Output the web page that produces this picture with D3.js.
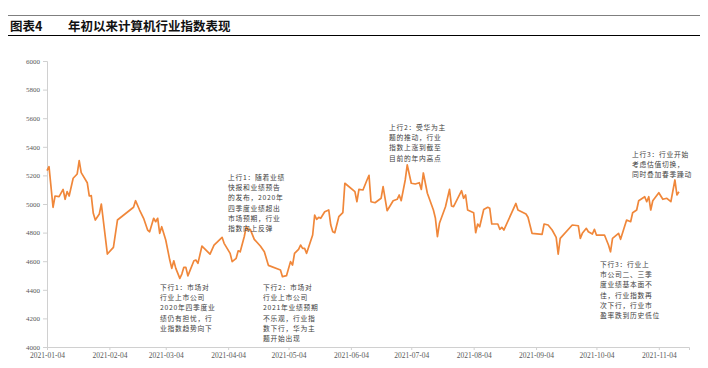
<!DOCTYPE html>
<html><head><meta charset="utf-8">
<script src="https://cdn.jsdelivr.net/npm/d3@7/dist/d3.min.js"></script>
<style>
html,body{margin:0;padding:0;background:#fff;}
svg{display:block;}
</style></head>
<body>
<svg id="chart" width="708" height="368"></svg>
<script>
// ---------- data ----------
const title = "图表4";
const subtitle = "年初以来计算机行业指数表现";
const dates = [
"2021-01-04","2021-01-05","2021-01-07","2021-01-08","2021-01-10","2021-01-12","2021-01-13","2021-01-14","2021-01-15","2021-01-17",
"2021-01-19","2021-01-20","2021-01-21","2021-01-24","2021-01-25","2021-01-26","2021-01-27","2021-01-28","2021-01-30","2021-01-31",
"2021-02-03","2021-02-06","2021-02-08","2021-02-16","2021-02-17","2021-02-19","2021-02-21","2021-02-23","2021-02-24","2021-02-26",
"2021-02-27","2021-02-28","2021-03-01","2021-03-02","2021-03-04","2021-03-06","2021-03-07","2021-03-08","2021-03-09","2021-03-11",
"2021-03-12","2021-03-13","2021-03-14","2021-03-15","2021-03-18","2021-03-19","2021-03-20","2021-03-22","2021-03-26","2021-03-28",
"2021-04-01","2021-04-02","2021-04-05","2021-04-06","2021-04-08","2021-04-09","2021-04-10","2021-04-12","2021-04-13","2021-04-14",
"2021-04-15","2021-04-17","2021-04-20","2021-04-22","2021-04-24","2021-04-30","2021-05-01","2021-05-03","2021-05-05","2021-05-06",
"2021-05-07","2021-05-09","2021-05-10","2021-05-11","2021-05-12","2021-05-13","2021-05-16","2021-05-17","2021-05-18","2021-05-19",
"2021-05-20","2021-05-22","2021-05-24","2021-05-25","2021-05-26","2021-05-27","2021-05-29","2021-05-31","2021-06-01","2021-06-06",
"2021-06-07","2021-06-08","2021-06-10","2021-06-12","2021-06-13","2021-06-14","2021-06-16","2021-06-19","2021-06-20","2021-06-22",
"2021-06-25","2021-06-27","2021-06-28","2021-06-29","2021-07-01","2021-07-02","2021-07-04","2021-07-06","2021-07-08","2021-07-09",
"2021-07-10","2021-07-12","2021-07-15","2021-07-16","2021-07-17","2021-07-18","2021-07-21","2021-07-23","2021-07-24","2021-07-25",
"2021-07-29","2021-07-30","2021-07-31","2021-08-01","2021-08-04","2021-08-05","2021-08-06","2021-08-07","2021-08-09","2021-08-11",
"2021-08-12","2021-08-13","2021-08-16","2021-08-17","2021-08-18","2021-08-19","2021-08-25","2021-08-26","2021-08-30","2021-08-31",
"2021-09-02","2021-09-07","2021-09-08","2021-09-10","2021-09-12","2021-09-14","2021-09-15","2021-09-16","2021-09-22","2021-09-25",
"2021-09-26","2021-09-27","2021-09-29","2021-09-30","2021-10-02","2021-10-03","2021-10-04","2021-10-08","2021-10-10","2021-10-11",
"2021-10-12","2021-10-15","2021-10-16","2021-10-19","2021-10-21","2021-10-22","2021-10-24","2021-10-25","2021-10-28","2021-10-29",
"2021-10-30","2021-10-31","2021-11-01","2021-11-04","2021-11-06","2021-11-08","2021-11-10","2021-11-12","2021-11-13","2021-11-14"
];
const values = [
5233,5261,4977,5056,5051,5102,5033,5087,5056,5180,
5210,5303,5219,5149,5056,5058,4935,4888,4930,5000,
4650,4697,4888,4977,5023,4958,4900,4818,4806,4900,
4876,4900,4795,4841,4748,4608,4550,4603,4550,4480,
4510,4557,4557,4497,4603,4608,4585,4706,4650,4713,
4767,4725,4655,4597,4620,4673,4666,4771,4841,4818,
4823,4753,4706,4666,4571,4538,4492,4499,4597,4573,
4655,4683,4713,4690,4690,4655,4783,4923,4893,4907,
4900,4946,4958,4853,4806,4799,4911,4939,5145,5086,
5016,5102,5098,5168,5200,5016,5009,5040,5121,4953,
5023,5033,5063,5023,5168,5273,5145,5140,5149,5102,
5217,5075,4958,4900,4771,4865,4981,5102,4986,4981,
5093,5040,5063,4958,4939,4799,4860,4841,4962,4977,
4970,4860,4860,4823,4837,4818,5004,4958,4930,4907,
4795,4788,4860,4853,4818,4767,4650,4760,4853,4848,
4760,4795,4830,4806,4790,4823,4783,4783,4713,4666,
4760,4795,4753,4888,4876,4939,4958,5023,5051,5016,
5051,4958,5023,5079,5033,5040,5016,5168,5063,5086
];
const yTicks = [4000,4200,4400,4600,4800,5000,5200,5400,5600,5800,6000];
const xTickDates = ["2021-01-04","2021-02-04","2021-03-04","2021-04-04","2021-05-04","2021-06-04","2021-07-04","2021-08-04","2021-09-04","2021-10-04","2021-11-04"];
const axisStart = "2021-01-04";
const axisEnd = "2021-11-19";
const noteDown1 = ["下行1：市场对","行业上市公司","2020年四季度业","绩仍有担忧，行","业指数趋势向下"];
const noteUp1 = ["上行1：随着业绩","快报和业绩预告","的发布，2020年","四季度业绩超出","市场预期，行业","指数向上反弹"];
const noteDown2 = ["下行2：市场对","行业上市公司","2021年业绩预期","不乐观，行业指","数下行，华为主","题开始出现"];
const noteUp2 = ["上行2：受华为主","题的推动，行业","指数上涨到截至","目前的年内高点"];
const noteUp3 = ["上行3：行业开始","考虑估值切换，","同时叠加春季躁动"];
const noteDown3 = ["下行3：行业上","市公司二、三季","度业绩基本面不","佳，行业指数再","次下行，行业市","盈率跌到历史低位"];

// ---------- layout ----------
const svg = d3.select("#chart");
const parse = d3.timeParse("%Y-%m-%d");
const W = 708;
const plot = {left: 47, right: 689, top: 61, bottom: 347};
const x = d3.scaleTime().domain([parse(axisStart), parse(axisEnd)]).range([plot.left, plot.right]);
const y = d3.scaleLinear().domain([4000, 6000]).range([plot.bottom, plot.top]);

// title block
svg.append("line").attr("x1", 8).attr("x2", 700).attr("y1", 15.5).attr("y2", 15.5)
  .attr("stroke", "#7f7f7f").attr("stroke-width", 1);
svg.append("line").attr("x1", 8).attr("x2", 700).attr("y1", 35.5).attr("y2", 35.5)
  .attr("stroke", "#000").attr("stroke-width", 1.2);
svg.append("text").attr("x", 10).attr("y", 30.5).text(title)
  .attr("font-family", "'Noto Sans CJK SC', sans-serif").attr("font-weight", "bold")
  .attr("font-size", 12.5).attr("fill", "#111");
svg.append("text").attr("x", 68).attr("y", 30.5).text(subtitle)
  .attr("font-family", "'Noto Sans CJK SC', sans-serif").attr("font-weight", "bold")
  .attr("font-size", 12.5).attr("fill", "#111");

const axisColor = "#d0d0d0";
const labelColor = "#595959";
const numFont = "'Liberation Serif', 'Times New Roman', serif";

// y axis
const yAxis = svg.append("g").attr("transform", `translate(${plot.left},0)`)
  .call(d3.axisLeft(y).tickValues(yTicks).tickSize(4).tickPadding(3).tickFormat(d3.format("d")));
yAxis.select(".domain").attr("stroke", axisColor);
yAxis.selectAll(".tick line").attr("stroke", axisColor);
yAxis.selectAll("text").attr("font-family", numFont).attr("font-size", 7).attr("fill", labelColor);

// x axis
const xAxis = svg.append("g").attr("transform", `translate(0,${plot.bottom})`)
  .call(d3.axisBottom(x).tickValues(xTickDates.map(parse)).tickSize(3).tickPadding(3)
    .tickFormat(d3.timeFormat("%Y-%m-%d")));
xAxis.select(".domain").attr("stroke", axisColor);
xAxis.selectAll(".tick line").attr("stroke", axisColor);
xAxis.selectAll("text").attr("font-family", numFont).attr("font-size", 7.5).attr("fill", labelColor);

// line
const series = dates.map((d, i) => ({date: parse(d), value: values[i]}));
svg.append("path").datum(series)
  .attr("fill", "none").attr("stroke", "#F0873A").attr("stroke-width", 1.7)
  .attr("stroke-linejoin", "round")
  .attr("d", d3.line().x(d => x(d.date)).y(d => y(d.value)));

// annotations
const notes = [
  {lines: noteDown1, left: 160, top: 290},
  {lines: noteUp1, left: 228, top: 180},
  {lines: noteDown2, left: 263, top: 290},
  {lines: noteUp2, left: 389, top: 130},
  {lines: noteUp3, left: 632, top: 157},
  {lines: noteDown3, left: 600, top: 267}
];
notes.forEach(n => {
  const t = svg.append("text").attr("font-family", "'Noto Sans CJK SC', sans-serif")
    .attr("font-size", 6.8).attr("fill", "#404040").attr("letter-spacing", 0.7);
  n.lines.forEach((s, i) => {
    t.append("tspan").attr("x", n.left).attr("y", n.top + i * 10.2).text(s);
  });
});
</script>
</body></html>
